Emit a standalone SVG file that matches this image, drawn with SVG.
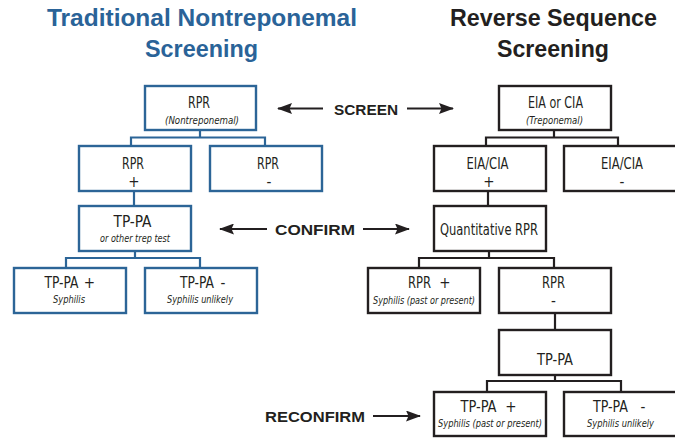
<svg xmlns="http://www.w3.org/2000/svg" width="675" height="438" viewBox="0 0 675 438">
<style>
.bg{fill:#ffffff}
.bb{fill:#ffffff;stroke:#2c6597;stroke-width:2.4}
.kb{fill:#ffffff;stroke:#231f20;stroke-width:2.4}
.bc{fill:none;stroke:#2c6597;stroke-width:2.2}
.kc{fill:none;stroke:#231f20;stroke-width:2.2}
.ar{fill:none;stroke:#231f20;stroke-width:2.2}
.title{font-family:"Liberation Sans",Arial,sans-serif;font-weight:bold;font-size:24px;text-anchor:middle}
.tb{fill:#2a6398}
.tk{fill:#231f20}
.m{font-family:"DejaVu Sans Condensed","DejaVu Sans",sans-serif;font-stretch:condensed;font-size:16px;fill:#231f20;text-anchor:middle}
.pm{font-size:15px}
.s{font-family:"DejaVu Sans Condensed","DejaVu Sans",sans-serif;font-stretch:condensed;font-style:italic;font-size:10.5px;fill:#231f20;text-anchor:middle}
.lab{font-family:"Liberation Sans",Arial,sans-serif;font-weight:bold;font-size:15px;fill:#231f20;text-anchor:middle}
</style>
<defs>
<marker id="ah" markerUnits="userSpaceOnUse" markerWidth="15" markerHeight="11" refX="14" refY="5.5" orient="auto">
<path d="M0,0 L15,5.5 L0,11 L2.5,5.5 z" fill="#231f20"/>
</marker>
</defs>
<rect class="bg" x="0" y="0" width="675" height="438"/>

<g id="titles">
<text class="title tb" x="202" y="26" textLength="310" lengthAdjust="spacingAndGlyphs">Traditional Nontreponemal</text>
<text class="title tb" x="201.5" y="57" textLength="113" lengthAdjust="spacingAndGlyphs">Screening</text>
<text class="title tk" x="553.5" y="26" textLength="207" lengthAdjust="spacingAndGlyphs">Reverse Sequence</text>
<text class="title tk" x="553" y="57" textLength="112" lengthAdjust="spacingAndGlyphs">Screening</text>
</g>

<g id="connectors">
<path class="bc" d="M200,131 V137.5 M131,137.5 H265 M131,136.5 V146 M265,136.5 V146"/>
<path class="bc" d="M134,192 V206"/>
<path class="bc" d="M135,252 V258 M66,258 H200 M66,257 V268 M200,257 V268"/>
<path class="kc" d="M554,131 V137.5 M486,137.5 H618 M486,136.5 V146 M618,136.5 V146"/>
<path class="kc" d="M488,192 V206"/>
<path class="kc" d="M489,252 V258 M419,258 H554 M419,257 V268 M554,257 V268"/>
<path class="kc" d="M555,314 V330"/>
<path class="kc" d="M555,375 V381 M487,381 H621 M487,380 V392 M621,380 V392"/>
<line class="ar" x1="323" y1="108.5" x2="278" y2="108.5" marker-end="url(#ah)"/>
<line class="ar" x1="407" y1="108.5" x2="453" y2="108.5" marker-end="url(#ah)"/>
<line class="ar" x1="267" y1="229" x2="220" y2="229" marker-end="url(#ah)"/>
<line class="ar" x1="363" y1="229" x2="409" y2="229" marker-end="url(#ah)"/>
<line class="ar" x1="373" y1="416" x2="420" y2="416" marker-end="url(#ah)"/>
</g>

<g id="labels">
<text class="lab" x="366" y="115" textLength="64" lengthAdjust="spacingAndGlyphs">SCREEN</text>
<text class="lab" x="315" y="235" textLength="80" lengthAdjust="spacingAndGlyphs">CONFIRM</text>
<text class="lab" x="315" y="422" textLength="100" lengthAdjust="spacingAndGlyphs">RECONFIRM</text>
</g>

<g id="L1">
<rect class="bb" x="145" y="86" width="111" height="44"/>
<text class="m" x="199" y="108" textLength="22" lengthAdjust="spacingAndGlyphs">RPR</text>
<text class="s" x="202" y="124" textLength="74" lengthAdjust="spacingAndGlyphs">(Nontreponemal)</text>
</g>
<g id="L2a">
<rect class="bb" x="79" y="146" width="112" height="45"/>
<text class="m"><tspan x="133" y="169" textLength="22" lengthAdjust="spacingAndGlyphs">RPR</tspan><tspan class="pm" x="134" y="187">+</tspan></text>
</g>
<g id="L2b">
<rect class="bb" x="210" y="146" width="112" height="45"/>
<text class="m"><tspan x="268" y="169" textLength="22" lengthAdjust="spacingAndGlyphs">RPR</tspan><tspan class="pm" x="269" y="187">-</tspan></text>
</g>
<g id="L3">
<rect class="bb" x="79" y="206" width="112" height="45"/>
<text class="m" x="132.5" y="227" textLength="38" lengthAdjust="spacingAndGlyphs">TP-PA</text>
<text class="s" x="135" y="242" textLength="70" lengthAdjust="spacingAndGlyphs">or other trep test</text>
</g>
<g id="L4a">
<rect class="bb" x="14" y="268" width="112" height="45"/>
<text class="m"><tspan x="61.5" y="288" textLength="34" lengthAdjust="spacingAndGlyphs">TP-PA</tspan><tspan class="pm" x="89.5" y="288">+</tspan></text>
<text class="s" x="69" y="303" textLength="32" lengthAdjust="spacingAndGlyphs">Syphilis</text>
</g>
<g id="L4b">
<rect class="bb" x="145" y="268" width="112" height="45"/>
<text class="m"><tspan x="197" y="288" textLength="34" lengthAdjust="spacingAndGlyphs">TP-PA</tspan><tspan class="pm" x="223" y="288">-</tspan></text>
<text class="s" x="200" y="303" textLength="66" lengthAdjust="spacingAndGlyphs">Syphilis unlikely</text>
</g>

<g id="R1">
<rect class="kb" x="499" y="86" width="112" height="44"/>
<text class="m" x="555.5" y="108" textLength="55" lengthAdjust="spacingAndGlyphs">EIA or CIA</text>
<text class="s" x="554.5" y="124" textLength="57" lengthAdjust="spacingAndGlyphs">(Treponemal)</text>
</g>
<g id="R2a">
<rect class="kb" x="434" y="146" width="112" height="45"/>
<text class="m"><tspan x="487.5" y="169" textLength="42" lengthAdjust="spacingAndGlyphs">EIA/CIA</tspan><tspan class="pm" x="489" y="187">+</tspan></text>
</g>
<g id="R2b">
<rect class="kb" x="564" y="146" width="120" height="45"/>
<text class="m"><tspan x="622" y="169" textLength="42" lengthAdjust="spacingAndGlyphs">EIA/CIA</tspan><tspan class="pm" x="622" y="187">-</tspan></text>
</g>
<g id="R3">
<rect class="kb" x="434" y="206" width="112" height="45"/>
<text class="m" x="489" y="235" textLength="98" lengthAdjust="spacingAndGlyphs">Quantitative RPR</text>
</g>
<g id="R4a">
<rect class="kb" x="368" y="268" width="112" height="45"/>
<text class="m"><tspan x="419.5" y="288" textLength="23" lengthAdjust="spacingAndGlyphs">RPR</tspan><tspan class="pm" x="445" y="288">+</tspan></text>
<text class="s" x="424" y="304" textLength="102" lengthAdjust="spacingAndGlyphs">Syphilis (past or present)</text>
</g>
<g id="R4b">
<rect class="kb" x="499" y="268" width="112" height="45"/>
<text class="m"><tspan x="553.5" y="288" textLength="23" lengthAdjust="spacingAndGlyphs">RPR</tspan><tspan class="pm" x="553.5" y="306">-</tspan></text>
</g>
<g id="R5">
<rect class="kb" x="499" y="330" width="112" height="45"/>
<text class="m" x="555" y="365" textLength="36" lengthAdjust="spacingAndGlyphs">TP-PA</text>
</g>
<g id="R6a">
<rect class="kb" x="434" y="392" width="112" height="44"/>
<text class="m"><tspan x="478.5" y="412" textLength="36" lengthAdjust="spacingAndGlyphs">TP-PA</tspan><tspan class="pm" x="511" y="412">+</tspan></text>
<text class="s" x="490" y="427" textLength="104" lengthAdjust="spacingAndGlyphs">Syphilis (past or present)</text>
</g>
<g id="R6b">
<rect class="kb" x="564" y="392" width="120" height="44"/>
<text class="m"><tspan x="610.5" y="412" textLength="35" lengthAdjust="spacingAndGlyphs">TP-PA</tspan><tspan class="pm" x="643" y="412">-</tspan></text>
<text class="s" x="620.5" y="427" textLength="67" lengthAdjust="spacingAndGlyphs">Syphilis unlikely</text>
</g>
</svg>
